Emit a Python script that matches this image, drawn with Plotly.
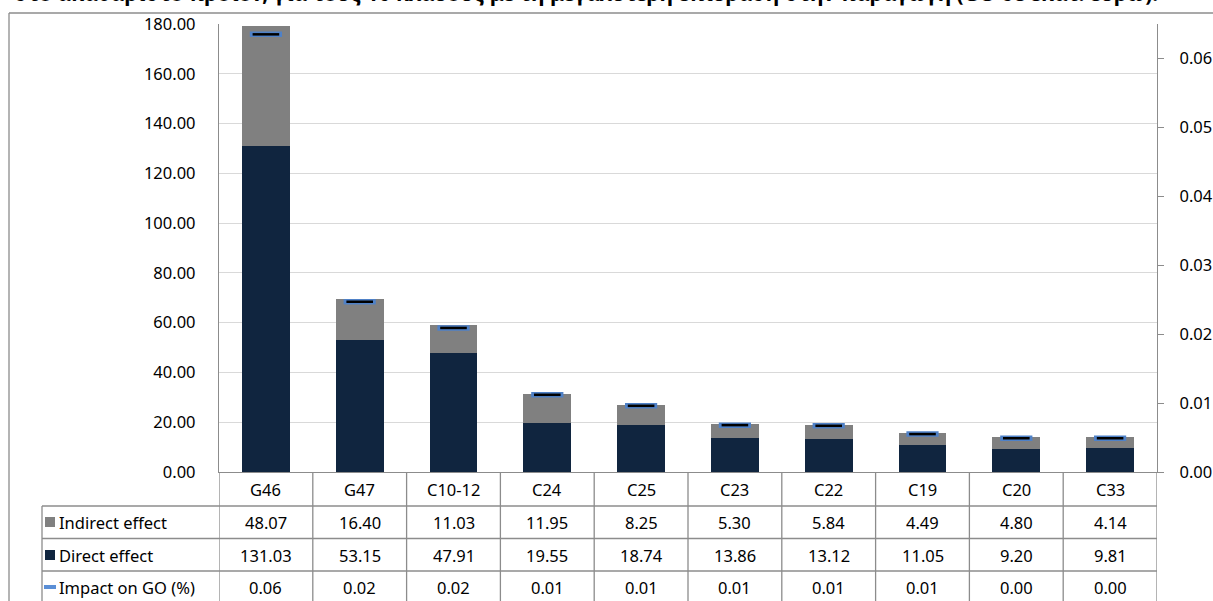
import plotly.graph_objects as go

categories = ["G46", "G47", "C10-12", "C24", "C25", "C23", "C22", "C19", "C20", "C33"]
indirect = [48.07, 16.40, 11.03, 11.95, 8.25, 5.30, 5.84, 4.49, 4.80, 4.14]
direct = [131.03, 53.15, 47.91, 19.55, 18.74, 13.86, 13.12, 11.05, 9.20, 9.81]
impact = [0.0635, 0.0247, 0.0209, 0.0112, 0.0096, 0.0068, 0.0067, 0.0055, 0.0049, 0.0049]
left_ticks = [0, 20, 40, 60, 80, 100, 120, 140, 160, 180]
right_ticks = [0, 0.01, 0.02, 0.03, 0.04, 0.05, 0.06]
row_names = ["Indirect effect", "Direct effect", "Impact on GO (%)"]
title_text = "στο ακαθάριστο προϊόν, για τους 10 κλάδους με τη μεγαλύτερη επίδραση στην παραγωγή (GO σε εκατ. ευρώ)."

W, H = 1213, 601
L, R, T, B = 219, 1157, 24, 472
FONT = "Noto Sans"
FS = 16.5
GRAY_LINE = "#8c8c8c"
C_DIRECT = "#10253f"
C_INDIRECT = "#808080"
C_BLUE = "#4f81c7"


def px(x):
    return (x - L) / (R - L)


def py(y):
    return (B - y) / (B - T)


fig = go.Figure()
fig.add_trace(go.Bar(x=categories, y=direct, name=row_names[1], marker=dict(color=C_DIRECT, line=dict(width=0))))
fig.add_trace(go.Bar(x=categories, y=indirect, name=row_names[0], marker=dict(color=C_INDIRECT, line=dict(width=0))))
fig.add_trace(go.Scatter(x=categories, y=impact, yaxis="y2", mode="markers", name=row_names[2],
                         marker=dict(symbol="line-ew", size=23, line=dict(width=5.5, color=C_BLUE))))
fig.add_trace(go.Scatter(x=categories, y=impact, yaxis="y2", mode="markers", showlegend=False,
                         marker=dict(symbol="line-ew", size=19, line=dict(width=2.5, color="#000000"))))

shapes = []
annotations = []
ln = dict(color=GRAY_LINE, width=1.3)

# outer chart frame (extends beyond the picture)
shapes.append(dict(type="line", xref="paper", yref="paper", x0=px(9), x1=px(1230), y0=py(13), y1=py(13), line=ln))
shapes.append(dict(type="line", xref="paper", yref="paper", x0=px(9), x1=px(9), y0=py(13), y1=py(620), line=ln))

# data table lines
for yy in [506, 538.5, 571]:
    shapes.append(dict(type="line", xref="paper", yref="paper", x0=px(42), x1=1.0, y0=py(yy), y1=py(yy), line=ln))
shapes.append(dict(type="line", xref="paper", yref="paper", x0=px(42), x1=px(42), y0=py(506), y1=py(620), line=ln))
for i in range(len(categories) + 1):
    shapes.append(dict(type="line", xref="x", yref="paper", x0=i - 0.5, x1=i - 0.5, y0=0, y1=py(620), line=ln))

# legend keys in table
shapes.append(dict(type="rect", xref="paper", yref="paper", x0=px(45), x1=px(55), y0=py(517), y1=py(527),
                   fillcolor=C_INDIRECT, line=dict(width=0)))
shapes.append(dict(type="rect", xref="paper", yref="paper", x0=px(45), x1=px(55), y0=py(550), y1=py(560),
                   fillcolor=C_DIRECT, line=dict(width=0)))
shapes.append(dict(type="rect", xref="paper", yref="paper", x0=px(44), x1=px(56), y0=py(585), y1=py(589),
                   fillcolor="#5b8fd6", line=dict(width=0)))

row_y = [py(522), py(555), py(587)]
for name, yv in zip(row_names, row_y):
    annotations.append(dict(xref="paper", yref="paper", x=px(57), y=yv, text=name, showarrow=False,
                            xanchor="left", yanchor="middle", font=dict(family=FONT, size=FS, color="#000")))

for i, c in enumerate(categories):
    annotations.append(dict(xref="x", yref="paper", x=c, y=py(489), text=c, showarrow=False,
                            xanchor="center", yanchor="middle", font=dict(family=FONT, size=FS, color="#000")))
    for vals, yv in [(indirect, row_y[0]), (direct, row_y[1]), (impact, row_y[2])]:
        annotations.append(dict(xref="x", yref="paper", x=c, y=yv, text="{:.2f}".format(vals[i]), showarrow=False,
                                xanchor="center", yanchor="middle", font=dict(family=FONT, size=FS, color="#000")))

# cut-off title at the very top (as in the reference, only its lower part shows)
annotations.append(dict(xref="paper", yref="paper", x=px(1160), y=py(9), text="<b>" + title_text + "</b>",
                        showarrow=False, xanchor="right", yanchor="bottom",
                        font=dict(family=FONT, size=21, color="#000")))

fig.update_layout(
    width=W, height=H,
    margin=dict(l=L, r=W - R, t=T, b=H - B, pad=0, autoexpand=False),
    paper_bgcolor="white", plot_bgcolor="white",
    barmode="stack", bargap=0.49,
    showlegend=False,
    font=dict(family=FONT, size=FS, color="#000"),
    xaxis=dict(type="category", range=[-0.5, 9.5], showticklabels=False, ticks="",
               showline=True, linecolor=GRAY_LINE, linewidth=1.3, showgrid=False, zeroline=False, fixedrange=True),
    yaxis=dict(range=[0, 180], tickvals=left_ticks, tickformat=".2f", ticks="", ticklabelstandoff=19,
               showline=True, linecolor=GRAY_LINE, linewidth=1.3, gridcolor="#d9d9d9", gridwidth=1.3,
               zeroline=False, automargin=False, tickfont=dict(family=FONT, size=FS)),
    yaxis2=dict(range=[0, 0.065], tickvals=right_ticks, tickformat=".2f", overlaying="y", side="right",
                ticks="outside", ticklen=6, tickcolor=GRAY_LINE, ticklabelstandoff=12,
                showline=True, linecolor=GRAY_LINE, linewidth=1.3, showgrid=False, zeroline=False,
                automargin=False, tickfont=dict(family=FONT, size=FS)),
    shapes=shapes, annotations=annotations,
)

fig.write_html("out.html", config={"displayModeBar": False},
               post_script="document.body.style.margin='0';document.body.style.overflow='hidden';")
